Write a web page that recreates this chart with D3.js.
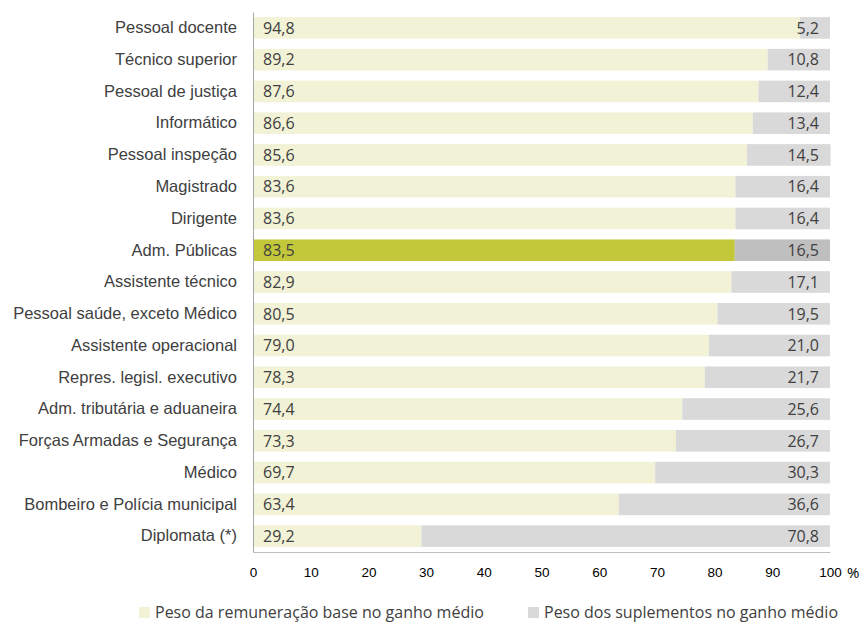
<!DOCTYPE html>
<html>
<head>
<meta charset="utf-8">
<script src="https://cdn.jsdelivr.net/npm/d3@7"></script>
<style>
  body { margin: 0; background: #fff; }
  svg { font-family: "Open Sans", "Noto Sans", sans-serif; }
</style>
</head>
<body>
<svg id="chart" width="864" height="623"></svg>
<script>
// categories, top to bottom
var categories = ['Pessoal docente', 'Técnico superior', 'Pessoal de justiça', 'Informático',
  'Pessoal inspeção', 'Magistrado', 'Dirigente', 'Adm. Públicas', 'Assistente técnico',
  'Pessoal saúde, exceto Médico', 'Assistente operacional', 'Repres. legisl. executivo',
  'Adm. tributária e aduaneira', 'Forças Armadas e Segurança', 'Médico',
  'Bombeiro e Polícia municipal', 'Diplomata (*)'];
var baseValues = [94.8, 89.2, 87.6, 86.6, 85.6, 83.6, 83.6, 83.5, 82.9, 80.5, 79.0, 78.3, 74.4, 73.3, 69.7, 63.4, 29.2];
var suppValues = [5.2, 10.8, 12.4, 13.4, 14.5, 16.4, 16.4, 16.5, 17.1, 19.5, 21.0, 21.7, 25.6, 26.7, 30.3, 36.6, 70.8];
var xTicks = [0, 10, 20, 30, 40, 50, 60, 70, 80, 90, 100];
var highlight = 'Adm. Públicas';
var legendLabels = ['Peso da remuneração base no ganho médio', 'Peso dos suplementos no ganho médio'];

var svg = d3.select('#chart');
var margin = {top: 12, left: 253, right: 34, bottom: 71};
var width = 864 - margin.left - margin.right,
    height = 623 - margin.top - margin.bottom;
var g = svg.append('g').attr('transform', 'translate(' + margin.left + ',' + margin.top + ')');

var x = d3.scaleLinear().domain([0, 100]).range([0, width]);
var y = d3.scaleBand().domain(categories).range([0, height]).paddingInner(0.32).paddingOuter(0.16);

var fmt = function (v) { return d3.format('.1f')(v).replace('.', ','); };
var textCol = '#404040';

var rows = categories.map(function (c, i) {
  return {cat: c, base: baseValues[i], supp: suppValues[i], hl: c === highlight};
});

// base bars
g.selectAll('.base').data(rows).enter().append('rect')
  .attr('class', 'base')
  .attr('x', x(0))
  .attr('y', function (d) { return y(d.cat); })
  .attr('width', function (d) { return x(d.base) - x(0); })
  .attr('height', y.bandwidth())
  .attr('fill', function (d) { return d.hl ? '#C3C83A' : '#F2F2D6'; });

// supplement bars
g.selectAll('.supp').data(rows).enter().append('rect')
  .attr('class', 'supp')
  .attr('x', function (d) { return x(d.base); })
  .attr('y', function (d) { return y(d.cat); })
  .attr('width', function (d) { return x(d.base + d.supp) - x(d.base); })
  .attr('height', y.bandwidth())
  .attr('fill', function (d) { return d.hl ? '#BFBFBF' : '#D9D9D9'; });

// value labels
g.selectAll('.lblBase').data(rows).enter().append('text')
  .attr('x', x(0) + 10)
  .attr('y', function (d) { return y(d.cat) + y.bandwidth() / 2; })
  .attr('dy', '0.36em')
  .attr('font-size', 16)
  .attr('fill', textCol)
  .text(function (d) { return fmt(d.base); });

g.selectAll('.lblSupp').data(rows).enter().append('text')
  .attr('x', x(100) - 11)
  .attr('y', function (d) { return y(d.cat) + y.bandwidth() / 2; })
  .attr('dy', '0.36em')
  .attr('text-anchor', 'end')
  .attr('font-size', 16)
  .attr('fill', textCol)
  .text(function (d) { return fmt(d.supp); });

// y axis
var yAxis = g.append('g').call(d3.axisLeft(y).tickSize(0).tickPadding(16));
yAxis.select('.domain').attr('stroke', '#A6A6A6');
yAxis.selectAll('text').attr('font-size', 16.5).attr('fill', textCol).attr('font-family', null);

// x axis
var xAxis = g.append('g').attr('transform', 'translate(0,' + height + ')')
  .call(d3.axisBottom(x).tickValues(xTicks).tickSize(0).tickPadding(15).tickFormat(d3.format('d')));
xAxis.select('.domain').attr('stroke', '#BFBFBF');
xAxis.selectAll('text').attr('font-size', 13.5).attr('fill', '#000').attr('font-family', null);

g.append('text')
  .attr('x', x(100) + 17)
  .attr('y', height + 26)
  .attr('font-size', 15)
  .attr('fill', '#000')
  .text('%');

// legend
var legend = svg.append('g');
var legX = [139, 528], legCol = ['#F2F2D6', '#D9D9D9'];
legendLabels.forEach(function (t, i) {
  legend.append('rect').attr('x', legX[i]).attr('y', 607).attr('width', 11).attr('height', 11).attr('fill', legCol[i]);
  legend.append('text').attr('x', legX[i] + 16).attr('y', 612).attr('dy', '0.36em')
    .attr('font-size', 16).attr('fill', textCol).text(t);
});
</script>
</body>
</html>
